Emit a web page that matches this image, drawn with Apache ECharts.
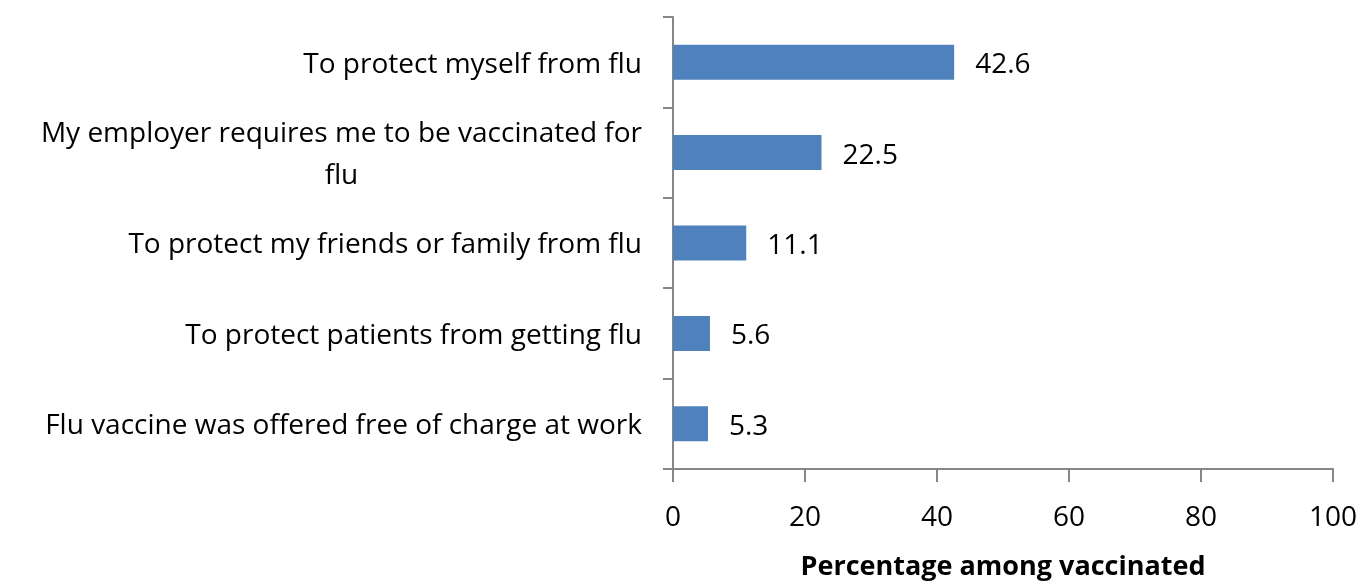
<!DOCTYPE html>
<html>
<head>
<meta charset="utf-8">
<script src="https://cdn.jsdelivr.net/npm/echarts@6/dist/echarts.min.js"></script>
<style>
  html, body { margin: 0; padding: 0; background: #fff; }
  #chart { width: 1362px; height: 586px; }
</style>
</head>
<body>
<div id="chart"></div>
<script>
// Reasons for getting the flu vaccine (bottom to top on the category axis)
const reasons = [
  'Flu vaccine was offered free of charge at work',
  'To protect patients from getting flu',
  'To protect my friends or family from flu',
  'My employer requires me to be vaccinated for\nflu',
  'To protect myself from flu'
];
const percentages = [5.3, 5.6, 11.1, 22.5, 42.6];
const xTicks = [0, 20, 40, 60, 80, 100];

const FONT = '"Open Sans"';
const FS = 28;
const AXIS_GRAY = '#868686';

const chart = echarts.init(document.getElementById('chart'), null, { renderer: 'canvas' });

chart.setOption({
  animation: false,
  grid: { left: 673, right: 29, top: 17, bottom: 115, containLabel: false },
  xAxis: {
    type: 'value',
    min: xTicks[0],
    max: xTicks[xTicks.length - 1],
    interval: xTicks[1] - xTicks[0],
    name: 'Percentage among vaccinated',
    nameLocation: 'middle',
    nameGap: 85,
    nameTextStyle: { fontFamily: FONT, fontSize: 27, fontWeight: 'bold', color: '#000' },
    axisLine: { show: true, lineStyle: { color: AXIS_GRAY, width: 2 } },
    axisTick: { show: true, length: 13, lineStyle: { color: AXIS_GRAY, width: 2 } },
    axisLabel: { margin: 35, fontFamily: FONT, fontSize: FS, color: '#000' },
    splitLine: { show: false }
  },
  yAxis: {
    type: 'category',
    data: reasons,
    axisLine: { show: true, lineStyle: { color: AXIS_GRAY, width: 2 } },
    axisTick: { show: true, length: 10, lineStyle: { color: AXIS_GRAY, width: 2 } },
    axisLabel: {
      margin: 31,
      fontFamily: FONT,
      fontSize: FS,
      color: '#000',
      lineHeight: 42,
      padding: [5, 0, 0, 0],
      formatter: v => v.split('\n').map(s => '{c|' + s + '}').join('\n'),
      rich: { c: { align: 'center', fontFamily: FONT, fontSize: FS, color: '#000', lineHeight: 42 } }
    }
  },
  series: [{
    type: 'bar',
    data: percentages,
    barWidth: 35,
    itemStyle: { color: '#4F81BD' },
    label: {
      show: true,
      position: 'right',
      distance: 21,
      offset: [0, 3],
      fontFamily: FONT,
      fontSize: FS,
      color: '#000',
      formatter: p => p.value.toFixed(1)
    }
  }]
});
</script>
</body>
</html>
